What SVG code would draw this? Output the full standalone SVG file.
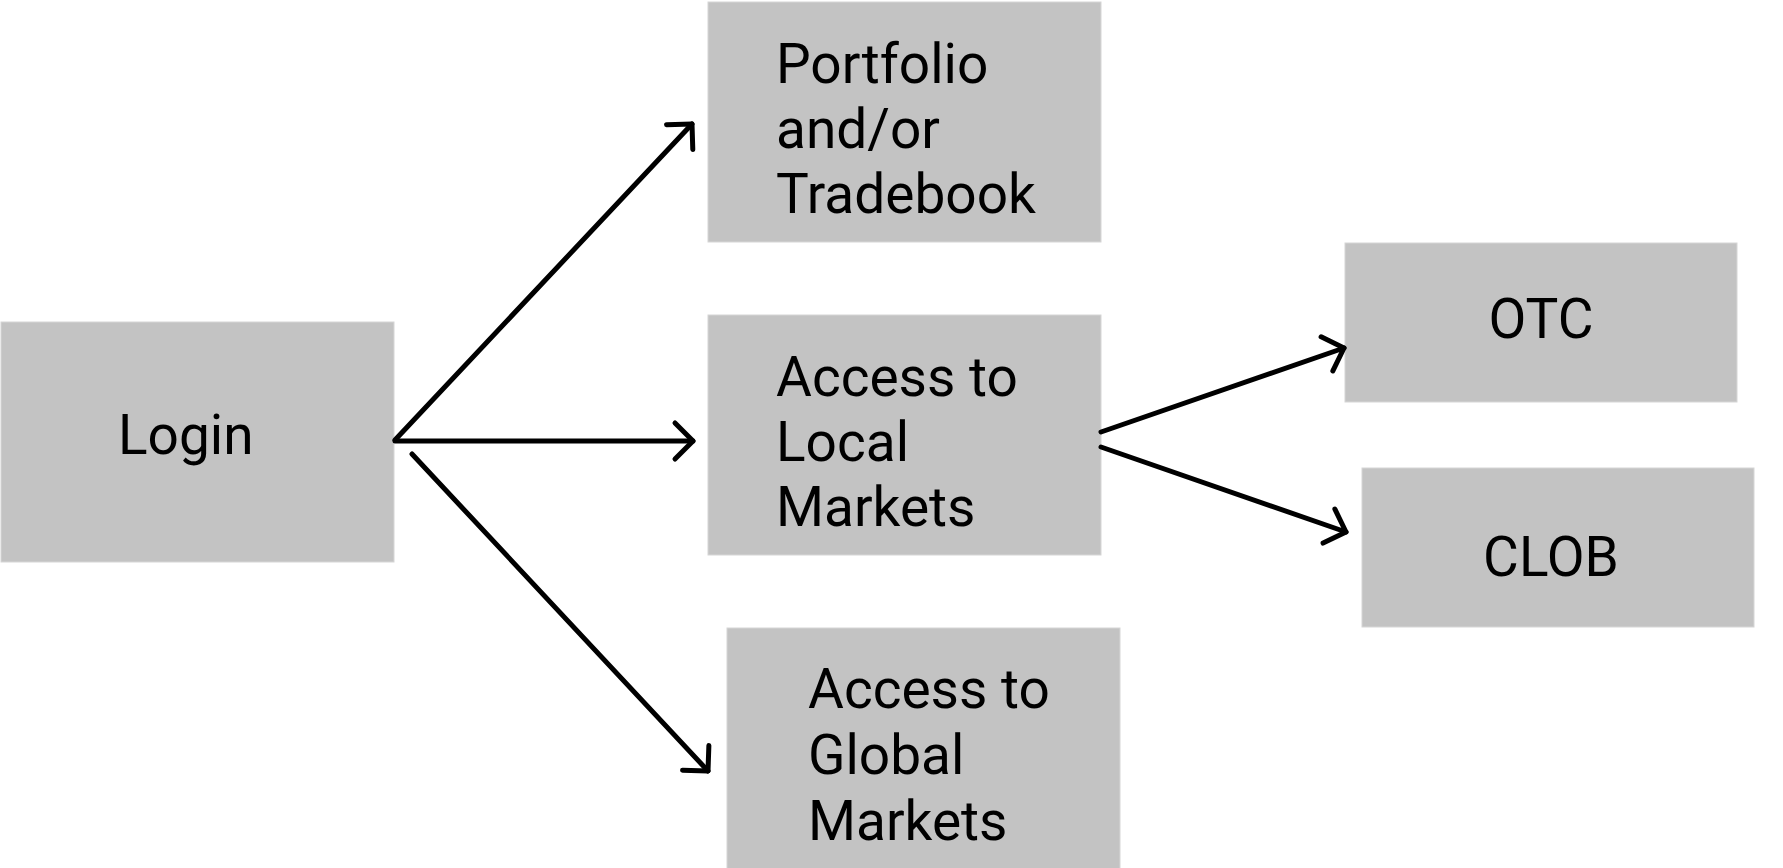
<svg xmlns="http://www.w3.org/2000/svg" width="1783" height="868" viewBox="0 0 1783 868">
<defs>
<style>
.box{fill:#c3c3c3;stroke:#d6d6d6;stroke-width:1}
.lbl{font-family:Roboto,"Liberation Sans",sans-serif;font-size:55px;fill:#000}
.conn{fill:none;stroke:#000;stroke-width:5;stroke-linecap:round}
</style>
<marker id="chev" markerUnits="userSpaceOnUse" markerWidth="50" markerHeight="50" viewBox="-25 -25 50 50" refX="0" refY="0" orient="auto" overflow="visible">
<path d="M-18,-18 L0,0 L-18,18" fill="none" stroke="#000" stroke-width="5" stroke-linecap="round" stroke-linejoin="round"/>
</marker>
</defs>
<rect width="1783" height="868" fill="#fff"/>
<g id="login">
<rect class="box" x="1" y="322" width="393" height="240"/>
<text class="lbl" x="118" y="454">Login</text>
</g>
<g id="portfolio">
<rect class="box" x="708" y="2" width="393" height="240"/>
<text class="lbl" x="776" y="83">Portfolio</text>
<text class="lbl" x="776" y="148">and/or</text>
<text class="lbl" x="776" y="213">Tradebook</text>
</g>
<g id="local">
<rect class="box" x="708" y="315" width="393" height="240"/>
<text class="lbl" x="776" y="396">Access to</text>
<text class="lbl" x="776" y="461">Local</text>
<text class="lbl" x="776" y="526">Markets</text>
</g>
<g id="global">
<rect class="box" x="727" y="628" width="393" height="242"/>
<text class="lbl" x="808" y="708">Access to</text>
<text class="lbl" x="808" y="774">Global</text>
<text class="lbl" x="808" y="840">Markets</text>
</g>
<g id="otc">
<rect class="box" x="1345" y="243" width="392" height="159"/>
<text class="lbl" x="1541" y="338" text-anchor="middle">OTC</text>
</g>
<g id="clob">
<rect class="box" x="1362" y="468" width="392" height="159"/>
<text class="lbl" x="1551" y="576" text-anchor="middle">CLOB</text>
</g>
<g id="connectors">
<line class="conn" x1="395" y1="440" x2="692" y2="124" marker-end="url(#chev)"/>
<line class="conn" x1="395" y1="441" x2="693" y2="441" marker-end="url(#chev)"/>
<line class="conn" x1="412" y1="454" x2="708" y2="771" marker-end="url(#chev)"/>
<line class="conn" x1="1101" y1="432" x2="1344" y2="348" marker-end="url(#chev)"/>
<line class="conn" x1="1101" y1="447" x2="1346" y2="532" marker-end="url(#chev)"/>
</g>
</svg>
